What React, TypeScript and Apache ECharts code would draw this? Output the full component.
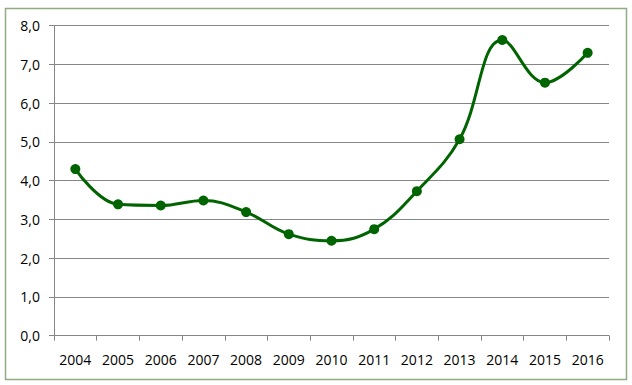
import React, { useEffect, useRef } from "react";
import * as echarts from "echarts";

const years = ["2004", "2005", "2006", "2007", "2008", "2009", "2010", "2011", "2012", "2013", "2014", "2015", "2016"];
const values = [4.3, 3.39, 3.36, 3.49, 3.19, 2.62, 2.45, 2.75, 3.73, 5.07, 7.63, 6.53, 7.3];
const yMin = 0;
const yMax = 8;
const yStep = 1;

export default function App() {
  const ref = useRef<HTMLDivElement>(null);
  useEffect(() => {
    document.body.style.margin = "0";
    const chart = echarts.init(ref.current!, null, { renderer: "svg" });
    const font = "Open Sans, Liberation Sans, sans-serif";
    chart.setOption({
      animation: false,
      backgroundColor: "#ffffff",
      graphic: [
        {
          type: "rect",
          shape: { x: 5.5, y: 8.5, width: 621, height: 371 },
          style: { fill: "none", stroke: "#8fac84", lineWidth: 1.5 },
          silent: true,
        },
      ],
      grid: { left: 54, right: 23, top: 25.7, bottom: 49.3, containLabel: false },
      xAxis: {
        type: "category",
        data: years,
        boundaryGap: true,
        axisLine: { show: true, lineStyle: { color: "#868686", width: 1 } },
        axisTick: { show: true, length: 5, lineStyle: { color: "#868686" } },
        axisLabel: { color: "#000000", fontSize: 14, fontFamily: font, margin: 17 },
        splitLine: { show: false },
      },
      yAxis: {
        type: "value",
        min: yMin,
        max: yMax,
        interval: yStep,
        axisLine: { show: true, lineStyle: { color: "#868686", width: 1 } },
        axisTick: { show: true, length: 5, lineStyle: { color: "#868686" } },
        axisLabel: {
          color: "#000000",
          fontSize: 14,
          fontFamily: font,
          margin: 14,
          formatter: (v: number) => v.toFixed(1).replace(".", ","),
        },
        splitLine: { show: true, lineStyle: { color: "#868686", width: 1 } },
      },
      series: [
        {
          type: "line",
          data: values,
          smooth: 0.4,
          symbol: "circle",
          symbolSize: 10,
          lineStyle: { color: "#006400", width: 3 },
          itemStyle: { color: "#006400" },
        },
      ],
    });
    return () => chart.dispose();
  }, []);
  return <div ref={ref} style={{ width: 632, height: 385 }} />;
}
